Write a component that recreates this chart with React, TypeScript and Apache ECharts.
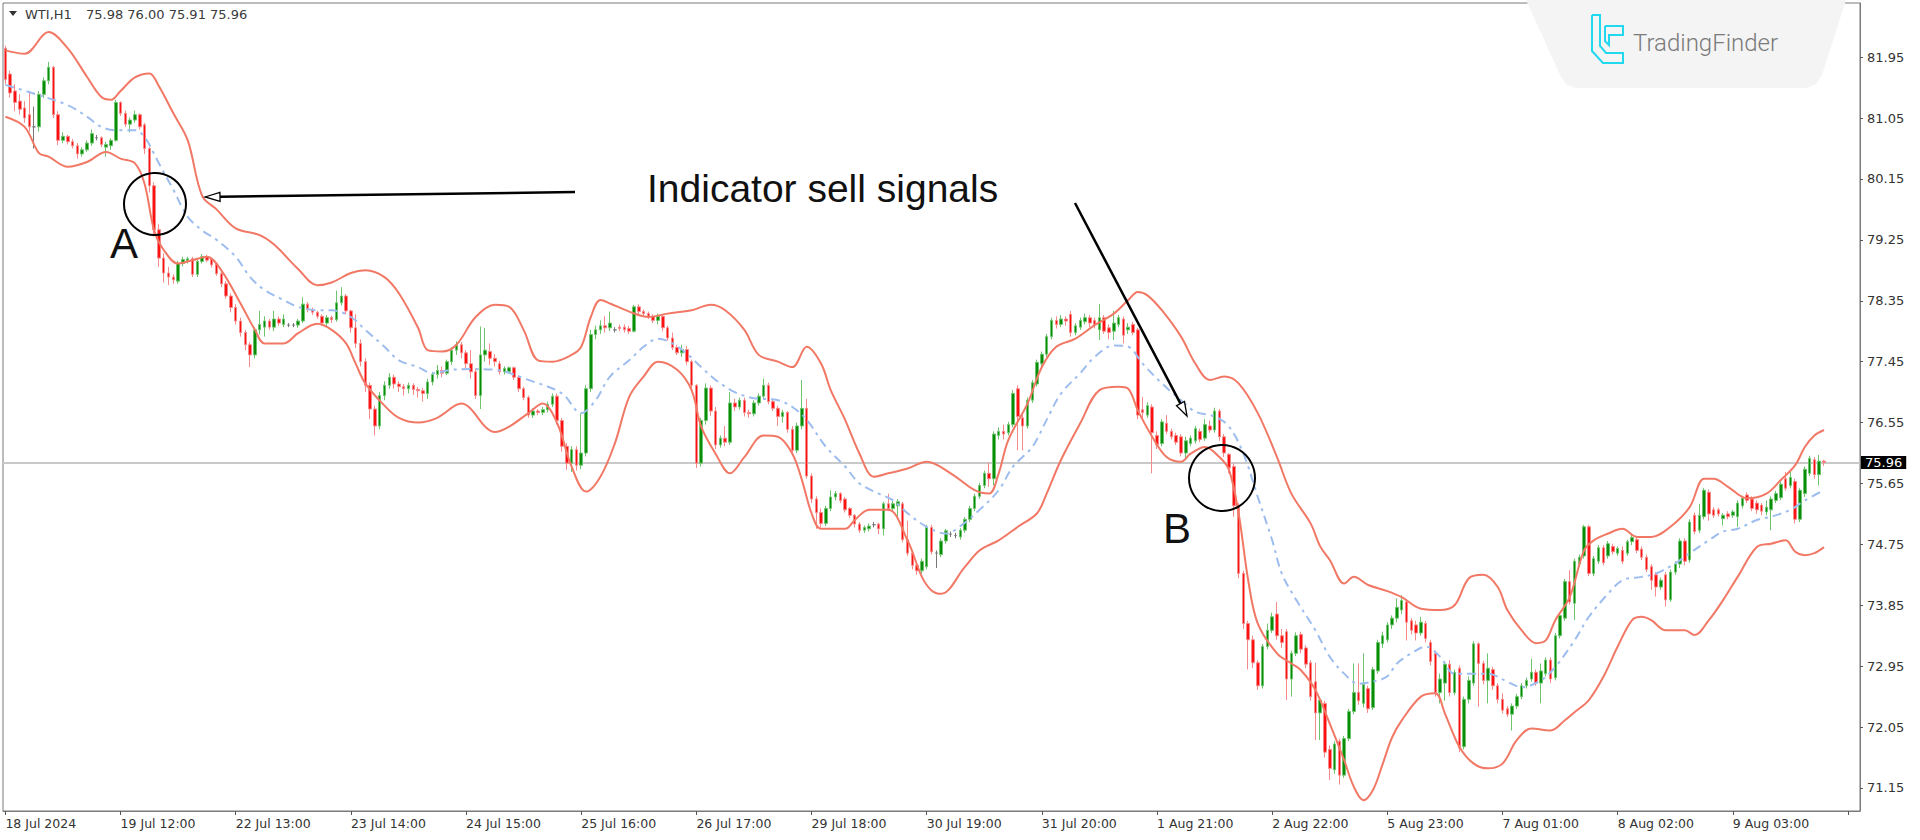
import React, { useEffect, useRef } from "react";
import * as echarts from "echarts";

// ---------- data ----------
const symbolName = "WTI,H1";
const headerQuote = "75.98 76.00 75.91 75.96";
const lastPrice = 75.96;
const priceTicks = [71.15, 72.05, 72.95, 73.85, 74.75, 75.65, 76.55, 77.45, 78.35, 79.25, 80.15, 81.05, 81.95];
const timeLabels = [
  "18 Jul 2024", "19 Jul 12:00", "22 Jul 13:00", "23 Jul 14:00", "24 Jul 15:00", "25 Jul 16:00",
  "26 Jul 17:00", "29 Jul 18:00", "30 Jul 19:00", "31 Jul 20:00", "1 Aug 21:00", "2 Aug 22:00",
  "5 Aug 23:00", "7 Aug 01:00", "8 Aug 02:00", "9 Aug 03:00",
];
const barsPerLabel = 24;
const totalSlots = 387;

// H1 candles as [open, high, low, close]
const barsA = [
  [82.08, 82.12, 81.55, 81.62], [81.70, 81.75, 81.35, 81.42], [81.45, 81.55, 81.15, 81.28], [81.30, 81.40, 81.10, 81.18],
  [81.20, 81.30, 80.98, 81.05], [81.10, 81.45, 80.85, 80.92], [80.92, 81.22, 80.60, 80.92], [80.92, 81.45, 80.85, 81.40],
  [81.40, 81.65, 81.35, 81.60], [81.60, 81.88, 81.55, 81.80], [81.80, 81.82, 81.05, 81.10], [81.10, 81.15, 80.65, 80.72],
  [80.72, 80.84, 80.68, 80.78], [80.78, 80.80, 80.66, 80.70], [80.70, 80.74, 80.60, 80.64], [80.64, 80.68, 80.45, 80.52],
  [80.52, 80.62, 80.48, 80.58], [80.58, 80.72, 80.55, 80.68], [80.68, 80.88, 80.64, 80.82], [80.76, 80.80, 80.72, 80.76],
  [80.76, 80.78, 80.62, 80.66], [80.62, 80.70, 80.48, 80.66], [80.64, 80.75, 80.58, 80.72], [80.72, 81.32, 80.70, 81.28],
  [81.28, 81.30, 81.08, 81.12], [81.12, 81.16, 80.92, 80.96], [80.96, 81.06, 80.84, 81.02], [81.02, 81.16, 80.98, 81.10],
  [81.10, 81.12, 80.88, 80.92], [80.95, 80.98, 80.52, 80.60], [80.60, 80.62, 79.95, 80.05], [80.05, 80.10, 79.30, 79.40],
  [79.40, 79.48, 78.85, 78.98], [78.98, 79.05, 78.62, 78.76], [78.76, 78.85, 78.58, 78.70], [78.70, 78.74, 78.60, 78.66],
  [78.64, 78.94, 78.60, 78.90], [78.90, 79.00, 78.86, 78.96], [78.94, 79.00, 78.90, 78.97], [78.97, 79.00, 78.70, 78.74],
  [78.74, 78.96, 78.70, 78.93], [78.93, 79.04, 78.90, 79.00], [79.00, 79.03, 78.92, 78.95], [78.96, 78.98, 78.84, 78.88],
  [78.90, 78.92, 78.72, 78.75], [78.75, 78.78, 78.55, 78.60], [78.60, 78.64, 78.38, 78.42], [78.42, 78.46, 78.18, 78.25],
  [78.25, 78.30, 78.00, 78.05], [78.05, 78.10, 77.82, 77.88], [77.88, 77.92, 77.62, 77.70], [77.70, 77.74, 77.37, 77.55],
  [77.55, 77.96, 77.50, 77.92], [77.92, 78.20, 77.85, 78.00], [77.96, 78.12, 77.82, 78.05], [78.05, 78.08, 77.92, 77.96],
  [77.96, 78.20, 77.90, 78.08], [78.08, 78.12, 77.98, 78.02], [78.00, 78.15, 77.96, 78.08], [77.99, 78.02, 77.96, 77.99],
  [77.99, 78.02, 77.96, 77.99], [77.99, 78.08, 77.95, 78.05], [78.05, 78.40, 78.02, 78.30], [78.30, 78.33, 78.18, 78.22],
  [78.22, 78.25, 78.14, 78.18], [78.18, 78.20, 78.08, 78.12], [78.12, 78.15, 77.98, 78.02], [78.02, 78.14, 77.98, 78.10],
  [78.10, 78.13, 78.02, 78.07], [78.07, 78.50, 78.04, 78.32], [78.32, 78.55, 78.28, 78.42], [78.42, 78.45, 78.15, 78.20],
  [78.20, 78.22, 77.88, 77.95], [77.95, 78.15, 77.65, 77.72], [77.72, 77.78, 77.38, 77.45], [77.45, 77.50, 77.00, 77.10],
  [77.10, 77.14, 76.60, 76.75], [76.75, 76.80, 76.36, 76.50], [76.50, 77.00, 76.45, 76.95], [76.95, 77.16, 76.88, 77.10],
  [77.10, 77.28, 77.05, 77.22], [77.22, 77.26, 77.05, 77.12], [77.12, 77.16, 77.00, 77.08], [77.08, 77.12, 76.95, 77.05],
  [77.05, 77.14, 76.98, 77.10], [77.10, 77.13, 76.96, 77.04], [77.04, 77.08, 76.92, 77.02], [77.02, 77.06, 76.86, 76.98],
  [76.98, 77.20, 76.90, 77.15], [77.15, 77.30, 77.10, 77.26], [77.26, 77.40, 77.20, 77.32], [77.32, 77.38, 77.22, 77.28],
  [77.28, 77.48, 77.25, 77.45], [77.45, 77.66, 77.40, 77.62], [77.62, 77.75, 77.55, 77.70], [77.70, 77.74, 77.50, 77.58],
];
const barsB = [
  [77.58, 77.62, 77.35, 77.42], [77.42, 77.62, 77.20, 77.30], [77.30, 77.35, 76.90, 76.95], [76.95, 77.97, 76.75, 77.55],
  [77.55, 77.95, 77.45, 77.62], [77.60, 77.72, 77.40, 77.50], [77.50, 77.56, 77.38, 77.45], [77.42, 77.46, 77.26, 77.30],
  [77.30, 77.38, 77.26, 77.35], [77.30, 77.38, 77.28, 77.36], [77.36, 77.38, 77.18, 77.22], [77.22, 77.25, 77.00, 77.05],
  [77.05, 77.08, 76.88, 76.92], [76.92, 76.95, 76.62, 76.66], [76.66, 76.76, 76.62, 76.72], [76.72, 76.75, 76.66, 76.70],
  [76.70, 76.78, 76.66, 76.74], [76.74, 76.86, 76.70, 76.82], [76.82, 76.98, 76.78, 76.94], [76.94, 76.98, 76.52, 76.58],
  [76.58, 76.62, 76.12, 76.20], [76.20, 76.25, 75.85, 75.95], [75.95, 76.20, 75.82, 76.15], [76.15, 76.20, 75.84, 75.92],
  [75.92, 76.68, 75.86, 76.10], [76.10, 77.10, 76.05, 77.05], [77.05, 77.92, 77.00, 77.85], [77.85, 77.98, 77.78, 77.92],
  [77.92, 78.06, 77.86, 77.98], [77.98, 78.12, 77.88, 77.95], [77.95, 78.19, 77.90, 78.02], [77.92, 77.96, 77.88, 77.92],
  [77.96, 78.00, 77.90, 77.94], [77.96, 78.00, 77.88, 77.92], [77.94, 77.98, 77.86, 77.90], [77.90, 78.29, 77.88, 78.26],
  [78.26, 78.30, 78.15, 78.19], [78.19, 78.22, 78.12, 78.16], [78.16, 78.19, 78.08, 78.12], [78.12, 78.15, 78.02, 78.06],
  [78.06, 78.16, 78.00, 78.12], [78.12, 78.14, 77.90, 77.95], [77.95, 77.98, 77.76, 77.80], [77.80, 77.88, 77.62, 77.66],
  [77.66, 77.70, 77.55, 77.58], [77.58, 77.70, 77.52, 77.63], [77.63, 77.68, 77.40, 77.45], [77.45, 77.48, 77.05, 77.10],
  [77.10, 77.12, 75.88, 75.95], [75.95, 76.62, 75.90, 76.58], [76.58, 77.13, 76.52, 77.06], [77.06, 77.10, 76.65, 76.72],
  [76.72, 76.78, 76.16, 76.22], [76.22, 76.36, 76.18, 76.32], [76.32, 76.50, 76.20, 76.26], [76.26, 77.00, 76.22, 76.84],
  [76.84, 76.90, 76.72, 76.78], [76.78, 76.92, 76.74, 76.88], [76.88, 76.92, 76.64, 76.70], [76.70, 76.74, 76.62, 76.68],
  [76.68, 76.88, 76.64, 76.84], [76.84, 76.98, 76.80, 76.94], [76.94, 77.20, 76.90, 77.10], [77.10, 77.14, 76.82, 76.86],
  [76.86, 76.90, 76.72, 76.76], [76.76, 76.80, 76.50, 76.64], [76.64, 76.74, 76.55, 76.70], [76.70, 76.72, 76.40, 76.45],
  [76.45, 76.50, 76.10, 76.14], [76.14, 76.55, 76.10, 76.50], [76.50, 77.18, 76.45, 76.76], [76.76, 76.90, 75.72, 75.76],
  [75.76, 75.80, 75.36, 75.42], [75.42, 75.46, 74.98, 75.22], [75.22, 75.28, 75.00, 75.06], [75.06, 75.32, 75.02, 75.28],
  [75.28, 75.55, 75.24, 75.45], [75.45, 75.54, 75.40, 75.50], [75.50, 75.52, 75.36, 75.40], [75.42, 75.45, 75.22, 75.26],
  [75.28, 75.30, 75.14, 75.18], [75.18, 75.20, 75.00, 75.05], [75.05, 75.08, 74.92, 74.96], [74.96, 75.03, 74.92, 75.00],
  [74.98, 75.06, 74.94, 75.02], [75.04, 75.08, 75.00, 75.04], [75.05, 75.07, 74.90, 74.98], [74.98, 75.38, 74.88, 75.35],
  [75.35, 75.50, 75.24, 75.28], [75.28, 75.40, 75.24, 75.35], [75.32, 75.42, 75.12, 75.38], [75.35, 75.38, 74.78, 74.82],
  [74.82, 75.10, 74.58, 74.62], [74.62, 74.66, 74.38, 74.44], [74.44, 74.48, 74.30, 74.36], [74.36, 74.54, 74.32, 74.50],
];
const barsC = [
  [74.42, 75.04, 74.38, 75.00], [75.00, 75.04, 74.60, 74.64], [74.62, 74.66, 74.40, 74.62], [74.60, 74.84, 74.56, 74.80],
  [74.80, 74.98, 74.76, 74.95], [74.90, 74.94, 74.86, 74.90], [74.88, 74.92, 74.84, 74.88], [74.86, 74.99, 74.82, 74.96],
  [74.96, 75.15, 74.92, 75.12], [75.12, 75.32, 75.08, 75.28], [75.28, 75.50, 75.24, 75.46], [75.46, 75.66, 75.42, 75.62],
  [75.62, 75.84, 75.58, 75.80], [75.80, 75.96, 75.60, 75.72], [75.72, 76.42, 75.62, 76.38], [76.36, 76.48, 76.30, 76.42],
  [76.42, 76.52, 76.30, 76.38], [76.40, 76.56, 76.36, 76.52], [76.52, 77.03, 76.48, 76.98], [77.05, 77.10, 76.14, 76.64],
  [76.62, 76.70, 76.14, 76.50], [76.50, 76.92, 76.46, 76.88], [76.88, 77.18, 76.84, 77.14], [77.12, 77.48, 77.08, 77.44],
  [77.42, 77.60, 77.36, 77.56], [77.56, 77.86, 77.52, 77.82], [77.82, 78.10, 77.78, 78.06], [78.06, 78.12, 77.94, 78.00],
  [78.00, 78.14, 77.96, 78.08], [78.08, 78.12, 77.98, 78.05], [78.15, 78.20, 77.82, 77.88], [77.88, 78.02, 77.84, 77.98],
  [77.96, 78.10, 77.92, 78.06], [78.04, 78.16, 78.00, 78.10], [78.10, 78.14, 77.96, 78.02], [78.06, 78.10, 77.94, 78.00],
  [77.92, 78.30, 77.77, 78.10], [78.10, 78.14, 77.86, 77.90], [77.95, 78.00, 77.78, 77.88], [77.90, 78.20, 77.77, 78.02],
  [78.00, 78.14, 77.96, 78.10], [78.08, 78.12, 77.72, 77.84], [77.92, 78.02, 77.86, 77.96], [78.00, 78.04, 77.84, 77.88],
  [77.92, 77.95, 76.60, 76.66], [76.74, 76.93, 76.58, 76.70], [76.66, 76.85, 76.62, 76.80], [76.78, 76.82, 75.80, 76.40],
  [76.36, 76.42, 76.16, 76.22], [76.24, 76.60, 76.20, 76.56], [76.54, 76.66, 76.38, 76.42], [76.42, 76.46, 76.30, 76.34],
  [76.36, 76.40, 76.22, 76.26], [76.34, 76.38, 76.05, 76.10], [76.10, 76.34, 76.00, 76.28], [76.24, 76.36, 76.20, 76.32],
  [76.28, 76.50, 76.24, 76.46], [76.42, 76.46, 76.26, 76.30], [76.32, 76.60, 76.28, 76.52], [76.50, 76.58, 76.40, 76.44],
  [76.44, 76.77, 76.40, 76.72], [76.72, 76.75, 76.28, 76.34], [76.34, 76.38, 76.04, 76.10], [76.08, 76.10, 75.80, 75.88],
  [75.90, 75.95, 75.16, 75.32], [75.32, 75.36, 74.25, 74.32], [74.32, 74.36, 73.50, 73.58], [73.58, 73.62, 72.90, 73.34],
  [73.34, 73.40, 72.92, 73.00], [73.00, 73.04, 72.60, 72.66], [72.66, 73.28, 72.62, 73.24], [73.24, 73.58, 73.20, 73.48],
  [73.48, 73.74, 73.44, 73.68], [73.72, 73.90, 73.34, 73.40], [73.40, 73.50, 73.22, 73.30], [73.46, 73.50, 72.45, 72.76],
  [72.76, 73.18, 72.50, 73.14], [73.14, 73.45, 73.10, 73.40], [73.42, 73.46, 73.14, 73.20], [73.22, 73.26, 72.92, 72.98],
  [73.00, 73.04, 72.44, 72.50], [72.72, 73.00, 71.86, 72.26], [72.26, 72.50, 71.86, 72.45], [72.40, 72.44, 71.60, 71.68],
  [71.72, 71.78, 71.27, 71.44], [71.42, 71.84, 71.36, 71.80], [71.84, 71.88, 71.20, 71.34], [71.34, 71.92, 71.30, 71.88],
  [71.88, 72.32, 71.84, 72.28], [72.28, 72.99, 72.24, 72.56], [72.56, 72.99, 72.38, 72.44], [72.40, 73.14, 72.34, 72.68],
  [72.62, 72.66, 72.26, 72.32], [72.34, 72.94, 72.30, 72.90], [72.88, 73.34, 72.84, 73.30], [73.28, 73.46, 73.22, 73.40],
];
const barsD = [
  [73.34, 73.60, 73.30, 73.56], [73.56, 73.70, 73.50, 73.66], [73.66, 73.95, 73.60, 73.82], [73.78, 74.00, 73.72, 73.92],
  [73.90, 73.94, 73.33, 73.60], [73.62, 73.66, 73.42, 73.48], [73.56, 73.62, 73.33, 73.44], [73.44, 73.68, 73.40, 73.60],
  [73.58, 73.62, 73.30, 73.36], [73.30, 73.34, 72.96, 73.02], [73.14, 73.18, 72.50, 72.56], [72.56, 72.84, 72.40, 72.76],
  [72.70, 73.02, 72.44, 72.98], [72.98, 73.04, 72.50, 72.56], [72.56, 72.90, 72.52, 72.86], [72.92, 72.96, 71.68, 71.74],
  [71.76, 72.50, 71.72, 72.46], [72.46, 72.80, 72.40, 72.74], [72.70, 73.32, 72.66, 73.28], [73.28, 73.30, 72.35, 72.99],
  [72.99, 73.03, 72.68, 72.74], [72.74, 73.14, 72.40, 72.92], [72.90, 72.94, 72.60, 72.66], [72.66, 72.70, 72.40, 72.46],
  [72.46, 72.55, 72.25, 72.30], [72.32, 72.36, 72.20, 72.24], [72.24, 72.40, 72.00, 72.36], [72.36, 72.54, 72.32, 72.50],
  [72.50, 72.70, 72.46, 72.66], [72.66, 72.78, 72.62, 72.74], [72.76, 73.06, 72.72, 72.86], [72.86, 72.90, 72.66, 72.70],
  [72.70, 72.99, 72.40, 72.88], [72.84, 73.08, 72.80, 73.04], [73.04, 73.08, 72.70, 72.76], [72.78, 73.44, 72.74, 73.40],
  [73.40, 73.74, 73.36, 73.70], [73.66, 74.24, 73.62, 74.20], [74.20, 74.37, 73.86, 73.90], [73.88, 74.54, 73.63, 74.50],
  [74.46, 74.60, 74.42, 74.56], [74.58, 75.04, 74.54, 75.01], [75.01, 75.04, 74.28, 74.32], [74.32, 74.58, 74.28, 74.54],
  [74.50, 74.74, 74.46, 74.70], [74.70, 74.74, 74.44, 74.48], [74.58, 74.80, 74.54, 74.76], [74.72, 74.76, 74.60, 74.64],
  [74.62, 74.72, 74.58, 74.69], [74.66, 74.72, 74.46, 74.50], [74.62, 74.82, 74.58, 74.79], [74.79, 74.90, 74.74, 74.85],
  [74.82, 74.86, 74.62, 74.66], [74.68, 74.72, 74.52, 74.56], [74.56, 74.60, 74.34, 74.38], [74.42, 74.46, 74.08, 74.22],
  [74.30, 74.34, 73.98, 74.12], [74.12, 74.26, 74.08, 74.22], [74.30, 74.34, 73.83, 73.93], [73.93, 74.38, 73.90, 74.34],
  [74.34, 74.50, 74.30, 74.46], [74.46, 74.84, 74.40, 74.80], [74.80, 74.84, 74.44, 74.50], [74.52, 75.12, 74.48, 75.08],
  [75.18, 75.22, 74.90, 74.94], [74.96, 75.35, 74.92, 75.18], [75.16, 75.58, 75.12, 75.55], [75.52, 75.56, 75.10, 75.20],
  [75.26, 75.30, 75.14, 75.18], [75.26, 75.29, 75.16, 75.20], [75.13, 75.21, 75.03, 75.18], [75.20, 75.24, 75.12, 75.16],
  [75.18, 75.26, 75.14, 75.23], [75.16, 75.40, 75.01, 75.36], [75.32, 75.47, 75.28, 75.43], [75.48, 75.52, 75.36, 75.40],
  [75.42, 75.46, 75.24, 75.28], [75.36, 75.40, 75.20, 75.26], [75.33, 75.36, 75.18, 75.24], [75.23, 75.40, 75.18, 75.30],
  [75.26, 75.46, 74.96, 75.42], [75.40, 75.54, 75.36, 75.50], [75.44, 75.68, 75.40, 75.64], [75.72, 75.82, 75.54, 75.58],
  [75.62, 75.82, 75.58, 75.74], [75.68, 75.72, 75.06, 75.12], [75.12, 75.58, 75.08, 75.55], [75.50, 75.90, 75.45, 75.86],
  [75.80, 76.06, 75.76, 76.02], [76.00, 76.04, 75.72, 75.78], [75.78, 76.07, 75.62, 75.98], [75.98, 76.00, 75.91, 75.96],
];

// Bollinger bands (20, 2) as [bar index, price]
const upperBand = [
  [0, 82.05], [4, 82.0], [9, 82.32], [13, 82.08], [17, 81.66], [20, 81.36], [22, 81.32], [24, 81.45], [27, 81.65], [30, 81.71],
  [32, 81.52], [35, 81.12], [38, 80.72], [41, 79.9], [44, 79.7], [48, 79.42], [53, 79.32], [56, 79.18], [61, 78.82], [65, 78.58],
  [68, 78.62], [72, 78.76], [75, 78.8], [79, 78.7], [82, 78.46], [86, 77.95], [88, 77.62], [91, 77.6], [94, 77.7], [98, 78.11],
  [102, 78.29], [105, 78.26], [108, 77.92], [111, 77.47], [114, 77.45], [118, 77.55], [120, 77.67], [122, 78.11], [124, 78.36],
  [126, 78.31], [130, 78.19], [134, 78.11], [138, 78.16], [143, 78.21], [147, 78.29], [150, 78.21], [154, 77.92], [157, 77.55],
  [161, 77.45], [164, 77.37], [167, 77.67], [170, 77.42], [172, 77.03], [175, 76.59], [178, 76.09], [181, 75.75], [184, 75.8],
  [188, 75.87], [192, 75.97], [197, 75.8], [202, 75.55], [205, 75.5], [207, 75.8], [209, 76.29], [213, 76.83], [216, 77.37],
  [219, 77.67], [223, 77.79], [227, 77.99], [231, 78.16], [234, 78.36], [236, 78.48], [238, 78.43], [241, 78.21], [245, 77.82],
  [248, 77.42], [251, 77.18], [254, 77.23], [257, 77.13], [261, 76.69], [265, 76.04], [268, 75.5], [272, 75.06], [274, 74.72],
  [276, 74.52], [279, 74.17], [281, 74.27], [284, 74.15], [288, 74.06], [291, 73.97], [295, 73.8], [299, 73.78], [302, 73.85],
  [305, 74.25], [308, 74.3], [311, 74.12], [313, 73.78], [316, 73.48], [319, 73.29], [321, 73.33], [323, 73.63], [326, 73.97],
  [329, 74.66], [331, 74.81], [334, 74.91], [337, 74.98], [340, 74.86], [343, 74.86], [347, 75.01], [351, 75.3], [354, 75.72],
  [356, 75.72], [359, 75.6], [363, 75.43], [367, 75.5], [370, 75.7], [373, 75.92], [375, 76.19], [377, 76.36], [379, 76.44],
];
const middleBand = [
  [0, 81.54], [6, 81.41], [13, 81.24], [17, 81.07], [20, 80.92], [23, 80.87], [27, 80.87], [29, 80.77], [32, 80.38], [35, 79.99],
  [38, 79.59], [41, 79.39], [44, 79.25], [48, 79.0], [51, 78.7], [54, 78.51], [58, 78.36], [61, 78.26], [65, 78.21], [68, 78.21],
  [72, 78.11], [75, 77.92], [79, 77.67], [82, 77.47], [86, 77.37], [89, 77.28], [93, 77.33], [97, 77.34], [102, 77.33], [109, 77.18],
  [116, 76.98], [120, 76.69], [123, 76.88], [126, 77.23], [130, 77.47], [133, 77.67], [136, 77.79], [139, 77.72], [142, 77.57],
  [145, 77.37], [148, 77.18], [152, 77.0], [156, 76.91], [161, 76.88], [164, 76.78], [167, 76.59], [171, 76.19], [175, 75.9],
  [178, 75.65], [182, 75.5], [185, 75.4], [188, 75.21], [192, 75.01], [196, 74.91], [199, 75.02], [203, 75.26], [207, 75.55],
  [210, 75.9], [214, 76.19], [217, 76.59], [220, 76.98], [224, 77.28], [227, 77.52], [231, 77.69], [234, 77.67], [237, 77.42],
  [241, 77.13], [245, 76.88], [248, 76.71], [252, 76.64], [255, 76.49], [258, 76.09], [261, 75.45], [264, 74.81], [266, 74.32],
  [269, 73.93], [273, 73.48], [276, 73.09], [279, 72.84], [282, 72.69], [286, 72.74], [288, 72.8], [290, 72.99], [293, 73.14],
  [296, 73.24], [299, 73.09], [302, 72.84], [306, 72.84], [309, 72.84], [313, 72.72], [316, 72.64], [320, 72.74], [323, 72.94],
  [327, 73.33], [330, 73.68], [334, 74.02], [337, 74.22], [341, 74.27], [344, 74.32], [348, 74.47], [351, 74.62], [355, 74.81],
  [358, 74.94], [361, 74.98], [365, 75.11], [368, 75.16], [372, 75.26], [375, 75.4], [379, 75.55],
];
const lowerBand = [
  [0, 81.07], [4, 80.92], [7, 80.53], [9, 80.48], [13, 80.33], [17, 80.4], [21, 80.55], [24, 80.45], [27, 80.38], [29, 80.08],
  [31, 79.39], [33, 79.1], [36, 78.9], [39, 78.95], [42, 79.0], [45, 78.8], [49, 78.31], [52, 77.92], [54, 77.72], [58, 77.72],
  [61, 77.87], [65, 78.01], [68, 77.92], [71, 77.72], [73, 77.42], [75, 77.13], [79, 76.8], [82, 76.62], [86, 76.55], [90, 76.62],
  [95, 76.83], [102, 76.41], [105, 76.49], [109, 76.69], [112, 76.83], [115, 76.54], [118, 75.9], [121, 75.53], [124, 75.75],
  [127, 76.24], [130, 76.93], [133, 77.23], [136, 77.45], [140, 77.33], [143, 77.03], [145, 76.49], [148, 76.09], [151, 75.8],
  [154, 76.04], [158, 76.36], [161, 76.34], [164, 76.09], [166, 75.7], [168, 75.21], [170, 74.98], [175, 74.98], [177, 75.11],
  [180, 75.26], [184, 75.26], [188, 74.81], [191, 74.27], [193, 74.07], [195, 74.02], [200, 74.42], [203, 74.66], [207, 74.81],
  [211, 75.01], [215, 75.21], [217, 75.5], [220, 76.0], [224, 76.54], [228, 77.03], [232, 77.08], [234, 77.05], [236, 76.73],
  [239, 76.34], [242, 76.04], [245, 75.97], [247, 76.09], [250, 76.19], [253, 76.04], [255, 75.85], [257, 75.21], [259, 74.22],
  [261, 73.58], [265, 73.14], [268, 72.99], [270, 72.89], [273, 72.6], [276, 72.1], [279, 71.56], [281, 71.17], [283, 70.97],
  [285, 71.12], [287, 71.5], [289, 71.9], [291, 72.15], [295, 72.5], [298, 72.55], [300, 72.25], [303, 71.76], [306, 71.51],
  [309, 71.44], [312, 71.51], [315, 71.86], [318, 72.03], [322, 72.0], [325, 72.15], [327, 72.27], [330, 72.45], [333, 72.79],
  [336, 73.24], [339, 73.63], [341, 73.68], [343, 73.63], [346, 73.48], [350, 73.48], [352, 73.41], [355, 73.63], [358, 73.93],
  [361, 74.27], [365, 74.71], [368, 74.76], [371, 74.81], [373, 74.64], [375, 74.59], [377, 74.62], [379, 74.71],
];

// ---------- chart ----------
const BULL = "#0a8c0a";
const BEAR = "#ff1010";
const BULL_WICK = "#6cc46c";
const BEAR_WICK = "#f58a8a";
const BAND = "#f27866";
const MID = "#9dbdef";

function buildOption() {
  const bars = [...barsA, ...barsB, ...barsC, ...barsD];
  const candleData = bars.map(([o, h, l, c]) =>
    o === c
      ? { value: [o, c, l, h], itemStyle: { color: "#777", color0: "#777", borderColor: "#777", borderColor0: "#777" } }
      : [o, c, l, h]
  );
  const categories = Array.from({ length: totalSlots }, (_, i) => String(i));
  const bandLine = (data: number[][], color: string, width: number, type: any) => ({
    type: "line",
    data,
    showSymbol: false,
    symbol: "none",
    smooth: 0.35,
    silent: true,
    z: 4,
    lineStyle: { color, width, type },
  });

  return {
    animation: false,
    backgroundColor: "#ffffff",
    grid: { left: 3, right: 60, top: 3, bottom: 29, show: true, borderColor: "#7a7a7a", borderWidth: 1, backgroundColor: "transparent" },
    xAxis: {
      type: "category",
      data: categories,
      boundaryGap: true,
      axisLine: { show: true, lineStyle: { color: "#7a7a7a", width: 1 } },
      axisTick: { show: true, interval: barsPerLabel - 1, alignWithLabel: true, length: 4, lineStyle: { color: "#555" } },
      axisLabel: {
        show: true,
        interval: barsPerLabel - 1,
        align: "left",
        margin: 6,
        color: "#333",
        fontFamily: "DejaVu Sans",
        fontSize: 12.5,
        formatter: (_v: string, idx: number) => (idx % barsPerLabel === 0 ? timeLabels[idx / barsPerLabel] ?? "" : ""),
      },
      splitLine: { show: false },
    },
    yAxis: {
      type: "value",
      position: "right",
      min: 70.81,
      max: 82.75,
      axisLine: { show: true, lineStyle: { color: "#7a7a7a", width: 1 } },
      axisTick: { show: true, length: 3, customValues: priceTicks, lineStyle: { color: "#555" } },
      axisLabel: {
        show: true,
        customValues: priceTicks,
        formatter: (v: number) => v.toFixed(2),
        margin: 7,
        color: "#333",
        fontFamily: "DejaVu Sans",
        fontSize: 13,
      },
      splitLine: { show: false },
    },
    series: [
      {
        type: "candlestick",
        data: candleData,
        barWidth: 3,
        z: 3,
        itemStyle: {
          color: BULL,
          color0: BEAR,
          borderColor: BULL_WICK,
          borderColor0: BEAR_WICK,
          borderColorDoji: "#777",
          borderWidth: 1,
        },
        markLine: {
          silent: true,
          symbol: "none",
          z: 1,
          data: [{ yAxis: lastPrice }],
          lineStyle: { color: "#c9c9c9", width: 2, type: "solid" },
          label: {
            show: true,
            position: "end",
            distance: 1,
            formatter: lastPrice.toFixed(2),
            backgroundColor: "#000",
            color: "#fff",
            padding: [0, 4, 0, 4],
            fontFamily: "DejaVu Sans",
            fontSize: 13,
            lineHeight: 13,
          },
        },
      },
      bandLine(upperBand, BAND, 2, "solid"),
      bandLine(middleBand, MID, 2, [9, 5, 3, 5]),
      bandLine(lowerBand, BAND, 2, "solid"),
    ],
    graphic: buildGraphics(),
  };
}

function arrowHead(tipX: number, tipY: number, ux: number, uy: number, len: number, half: number) {
  const bx = tipX - ux * len;
  const by = tipY - uy * len;
  const px = -uy;
  const py = ux;
  return [
    [tipX, tipY],
    [bx + px * half, by + py * half],
    [bx - px * half, by - py * half],
  ];
}

function buildGraphics() {
  const els: any[] = [];
  // header
  els.push({ type: "polygon", z: 100, shape: { points: [[9, 11], [17, 11], [13, 16]] }, style: { fill: "#333" } });
  els.push({ type: "text", z: 100, x: 25, y: 14, style: { text: symbolName, font: '13px "DejaVu Sans"', fill: "#3a3a3a", verticalAlign: "middle" } });
  els.push({ type: "text", z: 100, x: 86, y: 14, style: { text: headerQuote, font: '13px "DejaVu Sans"', fill: "#3a3a3a", verticalAlign: "middle" } });

  // logo plate
  els.push({
    type: "polygon",
    z: 100,
    shape: {
      points: [[1526, 0], [1846, 0], [1822, 75], [1816, 84], [1807, 88], [1576, 88], [1567, 85], [1561, 77]],
    },
    style: { fill: "#f4f4f4" },
  });
  els.push({
    type: "polyline",
    z: 101,
    shape: { points: [[1592, 15], [1600, 15], [1600, 46], [1606, 53], [1623, 53], [1623, 63], [1603, 63], [1592, 51], [1592, 15]] },
    style: { stroke: "#22d8ee", lineWidth: 2, fill: null },
  });
  els.push({
    type: "polyline",
    z: 101,
    shape: { points: [[1605, 26], [1623, 26], [1623, 35], [1609, 35], [1609, 45], [1605, 41], [1605, 26]] },
    style: { stroke: "#22d8ee", lineWidth: 2, fill: null },
  });
  els.push({ type: "text", z: 101, x: 1633, y: 43, style: { text: "TradingFinder", font: '300 24px Roboto', fill: "#7a7a7a", verticalAlign: "middle" } });

  // circles
  els.push({ type: "circle", z: 50, shape: { cx: 155, cy: 204, r: 31 }, style: { fill: null, stroke: "#000", lineWidth: 2 } });
  els.push({ type: "circle", z: 50, shape: { cx: 1222, cy: 478, r: 33 }, style: { fill: null, stroke: "#000", lineWidth: 2 } });

  // arrow A (horizontal, pointing left)
  {
    const tip = [205, 197];
    const tail = [575, 192];
    const dx = tip[0] - tail[0];
    const dy = tip[1] - tail[1];
    const L = Math.hypot(dx, dy);
    const ux = dx / L;
    const uy = dy / L;
    els.push({ type: "line", z: 50, shape: { x1: tail[0], y1: tail[1], x2: tip[0] - ux * 15, y2: tip[1] - uy * 15 }, style: { stroke: "#000", lineWidth: 2.5 } });
    els.push({ type: "polygon", z: 51, shape: { points: arrowHead(tip[0], tip[1], ux, uy, 15, 4.5) }, style: { fill: "#fff", stroke: "#000", lineWidth: 1.3 } });
  }
  // arrow B (diagonal, pointing down-right)
  {
    const tip = [1187, 416];
    const tail = [1075, 203];
    const dx = tip[0] - tail[0];
    const dy = tip[1] - tail[1];
    const L = Math.hypot(dx, dy);
    const ux = dx / L;
    const uy = dy / L;
    els.push({ type: "line", z: 50, shape: { x1: tail[0], y1: tail[1], x2: tip[0] - ux * 14, y2: tip[1] - uy * 14 }, style: { stroke: "#000", lineWidth: 2.5 } });
    els.push({ type: "polygon", z: 51, shape: { points: arrowHead(tip[0], tip[1], ux, uy, 14, 4.5) }, style: { fill: "#fff", stroke: "#000", lineWidth: 1.3 } });
  }

  // texts
  els.push({ type: "text", z: 50, x: 647, y: 188, style: { text: "Indicator sell signals", font: '39px "Liberation Sans"', fill: "#111", verticalAlign: "middle" } });
  els.push({ type: "text", z: 50, x: 124, y: 243, style: { text: "A", font: '42px "Liberation Sans"', fill: "#111", align: "center", verticalAlign: "middle" } });
  els.push({ type: "text", z: 50, x: 1177, y: 528, style: { text: "B", font: '42px "Liberation Sans"', fill: "#111", align: "center", verticalAlign: "middle" } });
  return els;
}

export default function App() {
  const ref = useRef<HTMLDivElement>(null);
  useEffect(() => {
    if (!ref.current) return;
    const chart = echarts.init(ref.current, null, { renderer: "svg" });
    chart.setOption(buildOption() as any);
    return () => chart.dispose();
  }, []);
  return (
    <div
      ref={ref}
      style={{ position: "fixed", left: 0, top: 0, width: 1920, height: 840, background: "#fff" }}
    />
  );
}
